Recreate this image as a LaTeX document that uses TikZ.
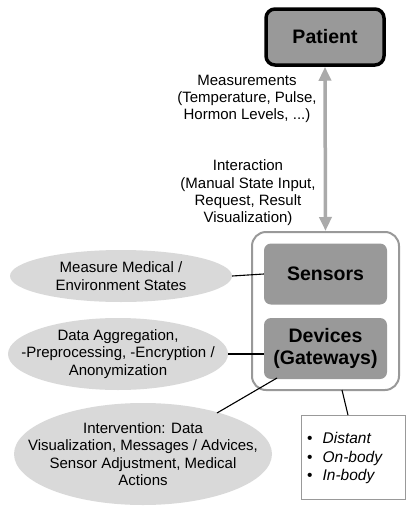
\documentclass[tikz,border=0pt]{standalone}
\usepackage{fontspec}
\setmainfont{Liberation Sans}
\usetikzlibrary{arrows.meta,shapes.geometric}
\definecolor{boxgray}{HTML}{999999}
\definecolor{ellgray}{HTML}{D9D9D9}
\definecolor{arrgray}{HTML}{AAAAAA}
\begin{document}
\begin{tikzpicture}[x=1pt,y=-1pt,
  txt/.style={font=\fontsize{15}{17.3}\selectfont, align=center, inner sep=0pt},
  darkbox/.style={draw=none, fill=boxgray, rounded corners=7pt, font=\fontsize{19.5}{22}\selectfont\bfseries, align=center},
  ellip/.style={ellipse, fill=ellgray, draw=none, inner sep=0pt},
  conn/.style={draw=black, line width=1.1pt}]
\useasboundingbox (0,0) rectangle (405,506);
\fill[white] (0,0) rectangle (405,506);
% outer container
\node[draw=boxgray, line width=2pt, rounded corners=14pt, fill=white, minimum width=147pt, minimum height=158pt] (outer) at (325.5,311) {};
% patient
\node[draw=black, line width=3.5pt, fill=boxgray, rounded corners=9pt, minimum width=118pt, minimum height=56pt, font=\fontsize{19.5}{22}\selectfont\bfseries] (patient) at (325,37) {Patient};
\node[darkbox, minimum width=123pt, minimum height=61pt] (sensors) at (325.5,274) {Sensors};
\node[darkbox, minimum width=123pt, minimum height=61pt] (devices) at (325.5,348.5) {Devices\\(Gateways)};
% arrow
\draw[arrgray, line width=3.5pt, {Triangle[length=14pt,width=12pt]}-{Triangle[length=14pt,width=12pt]}] (patient.south) -- (outer.north);
\node[txt] (meas) at (247,99) {Measurements\\(Temperature, Pulse,\\Hormon Levels, ...)};
\node[txt] (inter) at (248,193) {Interaction\\(Manual State Input,\\Request, Result\\Visualization)};
% ellipses
\node[ellip, minimum width=222pt, minimum height=52pt] (e1) at (121,276) {};
\node[txt] (t1) at (e1.center) {Measure Medical /\\Environment States};
\node[ellip, minimum width=220pt, minimum height=72pt] (e2) at (118,354) {};
\node[txt] (t2) at (e2.center) {Data Aggregation,\\-Preprocessing, -Encryption /\\Anonymization};
\node[ellip, minimum width=258pt, minimum height=102pt] (e3) at (143,454) {};
\node[txt] (t3) at (e3.center) {Intervention: Data\\Visualization, Messages / Advices,\\Sensor Adjustment, Medical\\Actions};
% list box
\node[draw=boxgray, line width=0.8pt, fill=white, minimum width=104pt, minimum height=84pt] (list) at (353,457.5) {};
\node[anchor=west, align=left, inner sep=0pt, font=\fontsize{15.5}{18.5}\selectfont\itshape] (items) at (307,458) {\upshape\textbullet\hspace{10pt}\itshape Distant\\\upshape\textbullet\hspace{10pt}\itshape On-body\\\upshape\textbullet\hspace{10pt}\itshape In-body};
% connectors
\draw[conn] (e1.east) -- (sensors.west);
\draw[conn] (e2.east) -- (devices.west |- e2.east);
\coordinate (e3t) at (217,413);
\coordinate (devb) at (277,378);
\draw[conn] (e3t) -- (devb);
\coordinate (ob) at (342,390);
\draw[conn] (ob) -- (list.north -| 348,0);
\end{tikzpicture}
\end{document}
